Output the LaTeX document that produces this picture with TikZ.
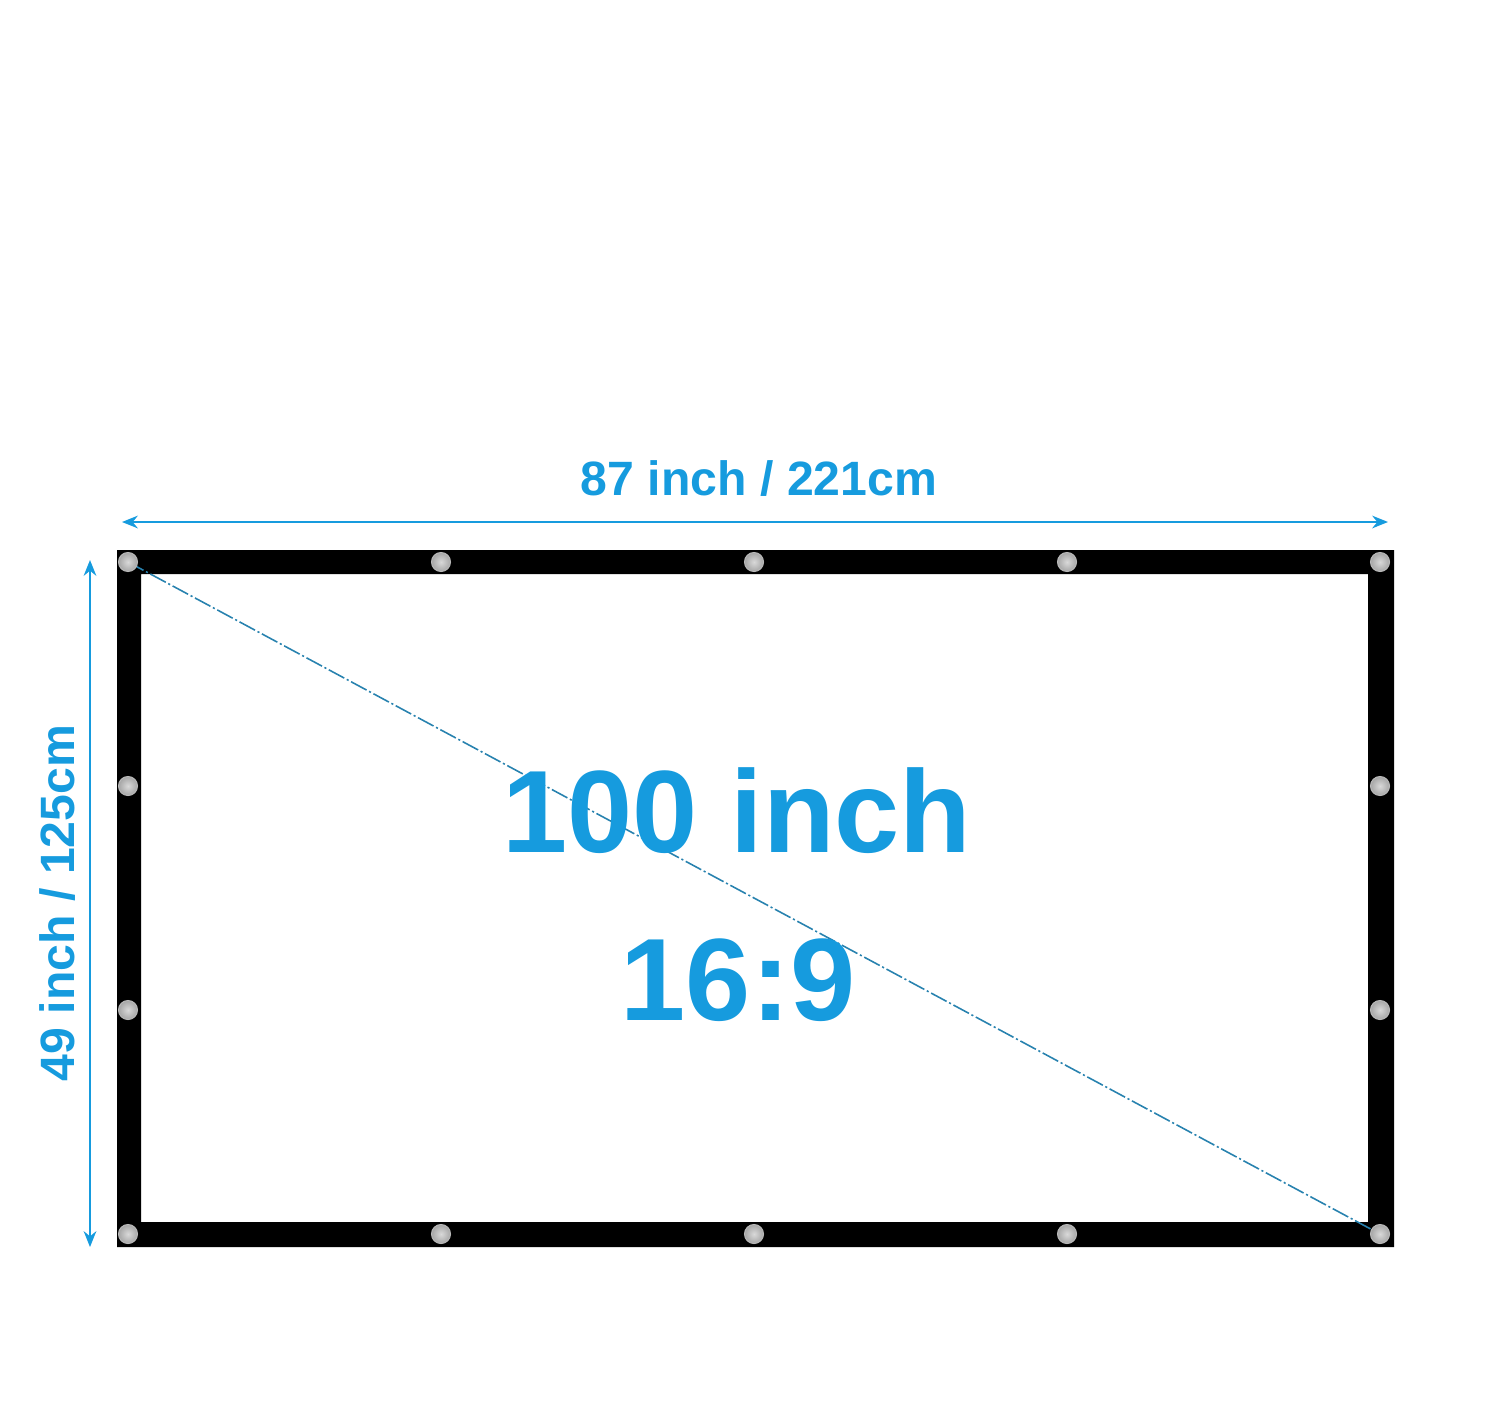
\documentclass[tikz,border=0pt]{standalone}
\usepackage{fontspec}
\setmainfont{Liberation Sans}
\usetikzlibrary{arrows.meta, positioning}
\definecolor{screenblue}{RGB}{22,155,222}
\definecolor{diagblue}{RGB}{40,130,175}

\tikzset{
    dimarrow/.style={draw=screenblue, line width=0.6pt,
        {Stealth[length=4.5pt, width=3.6pt]}-{Stealth[length=4.5pt, width=3.6pt]}},
    dimlabel/.style={text=screenblue, inner sep=0pt,
        font=\bfseries\fontsize{13.7}{16}\selectfont},
    biglabel/.style={text=screenblue, inner sep=0pt,
        font=\bfseries\fontsize{33.3}{38}\selectfont},
    grommet/.style={inner color=gray!30, outer color=gray!70, draw=gray!55, line width=0.3pt},
    diagline/.style={draw=diagblue, line width=0.45pt, dash pattern=on 5pt off 0.8pt on 0.6pt off 0.8pt},
}

\begin{document}
\begin{tikzpicture}[x=0.01cm, y=-0.01cm]
        \useasboundingbox (0,0) rectangle (1500,1415);
        \coordinate (tl) at (128,562);
        \coordinate (br) at (1380,1234);
        \coordinate (wl) at (122,522);
        \coordinate (wr) at (1388,522);
        \coordinate (ht) at (90,560);
        \coordinate (hb) at (90,1247);
        % screen with black border
        \fill[black, even odd rule] (117,550) rectangle (1394,1247)
            (141,574) rectangle (1368,1222);
        \draw[diagline] (tl) -- (br);
        \foreach \x in {128,441,754,1067,1380} {
            \shadedraw[grommet] (\x,562) circle (0.095cm);
            \shadedraw[grommet] (\x,1234) circle (0.095cm);
        }
        \foreach \y in {786,1010} {
            \shadedraw[grommet] (128,\y) circle (0.095cm);
            \shadedraw[grommet] (1380,\y) circle (0.095cm);
        }
        % dimensions
        \draw[dimarrow] (wl) -- (wr);
        \draw[dimarrow] (ht) -- (hb);
        \node[dimlabel, anchor=base] (width) at (759,495) {87 inch / 221cm};
        \node[dimlabel, anchor=base, rotate=90] (height) at (74,903) {49 inch / 125cm};
        \node[biglabel, anchor=base] (size) at (737,852) {100 inch};
        \node[biglabel, anchor=base] (ratio) at (738,1020) {16:9};
\end{tikzpicture}
\end{document}
